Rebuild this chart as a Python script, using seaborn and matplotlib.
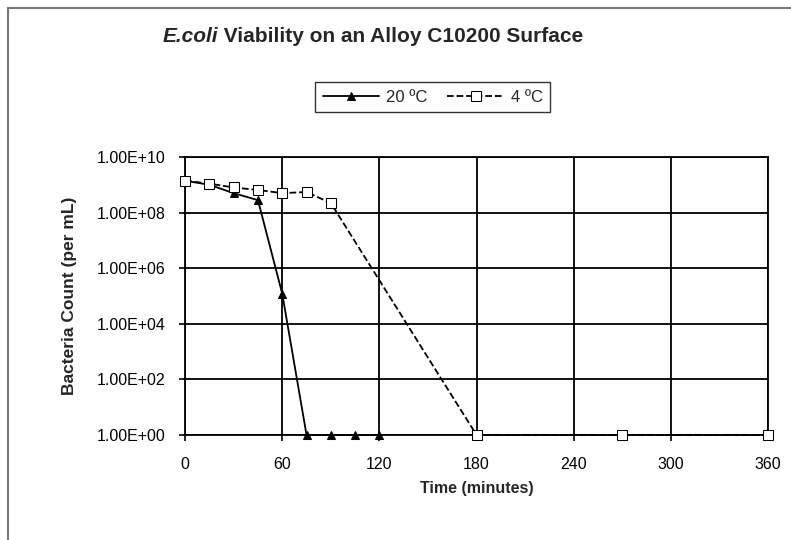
import pandas as pd
import matplotlib
matplotlib.use('Agg')
import matplotlib.pyplot as plt
import seaborn as sns
from matplotlib.ticker import FuncFormatter
from matplotlib.lines import Line2D

# data
time_20c = [0, 15, 30, 45, 60, 75, 90, 105, 120]
count_20c = [1.4e9, 1.0e9, 5.0e8, 2.8e8, 1.2e5, 1, 1, 1, 1]
time_4c = [0, 15, 30, 45, 60, 75, 90, 180, 270, 360]
count_4c = [1.4e9, 1.1e9, 8.0e8, 6.5e8, 5.0e8, 5.5e8, 2.2e8, 1, 1, 1]
x_ticks = [0, 60, 120, 180, 240, 300, 360]
y_ticks = [1e0, 1e2, 1e4, 1e6, 1e8, 1e10]

sns.set_theme(style='white')
plt.rcParams['font.family'] = ['Liberation Sans', 'DejaVu Sans']

df20 = pd.DataFrame({'time': time_20c, 'count': count_20c})
df4 = pd.DataFrame({'time': time_4c, 'count': count_4c})

fig = plt.figure(figsize=(7.91, 5.40), dpi=100)
ax = fig.add_axes([0.234, 0.1944, 0.737, 0.5149])

sns.lineplot(data=df20, x='time', y='count', ax=ax, color='black', lw=1.3,
             marker='^', markersize=6, markerfacecolor='black',
             markeredgecolor='black', label='20 \u00baC', clip_on=False,
             zorder=5)
sns.lineplot(data=df4, x='time', y='count', ax=ax, color='black', lw=1.3,
             linestyle='--', dashes=(3, 3), marker='s', markersize=7,
             markerfacecolor='white', markeredgecolor='black',
             label='4 \u00baC', clip_on=False, zorder=6)

ax.set_yscale('log')
ax.set_xlim(0, 360)
ax.set_ylim(1, 1e10)
ax.set_xticks(x_ticks)
ax.set_yticks(y_ticks)
ax.minorticks_off()
ax.yaxis.set_major_formatter(FuncFormatter(lambda v, p: f'{v:.2E}'))
ax.tick_params(axis='both', labelsize=11.5, colors='black', length=4,
               direction='out', left=True, bottom=True, width=1.2)
ax.tick_params(axis='x', pad=12)
ax.tick_params(axis='y', pad=10)
ax.grid(True, color='black', lw=1.3)
for s in ax.spines.values():
    s.set_color('black')
    s.set_linewidth(1.3)
    s.set_zorder(2)

ax.set_xlabel('Time (minutes)', fontsize=11.5, fontweight='bold', labelpad=6)
ax.set_ylabel('Bacteria Count (per mL)', fontsize=12.5, fontweight='bold',
              labelpad=14)

# title: italic species name followed by the rest, starting where the ref does
t1 = fig.text(163 / 791, 0.933, 'E.coli', fontsize=15, fontweight='bold',
              style='italic', ha='left', va='center')
fig.canvas.draw()
bb = t1.get_window_extent(fig.canvas.get_renderer())
fig.text(bb.x1 / fig.bbox.width, 0.933, ' Viability on an Alloy C10200 Surface',
         fontsize=15, fontweight='bold', ha='left', va='center')

leg = ax.legend(loc='center', bbox_to_anchor=(0.547, 0.82),
                bbox_transform=fig.transFigure, ncol=2, fontsize=12,
                frameon=True, fancybox=False, edgecolor='black',
                handlelength=3.4, columnspacing=1.2, handletextpad=0.4,
                borderpad=0.45)
leg.get_frame().set_linewidth(1.0)

# outer chart frame
fig.add_artist(Line2D([8 / 791, 1], [1 - 8 / 540, 1 - 8 / 540],
                      color='#777777', lw=1.5, transform=fig.transFigure))
fig.add_artist(Line2D([8 / 791, 8 / 791], [0, 1 - 8 / 540],
                      color='#777777', lw=1.5, transform=fig.transFigure))

fig.savefig('out.png', dpi=100)
